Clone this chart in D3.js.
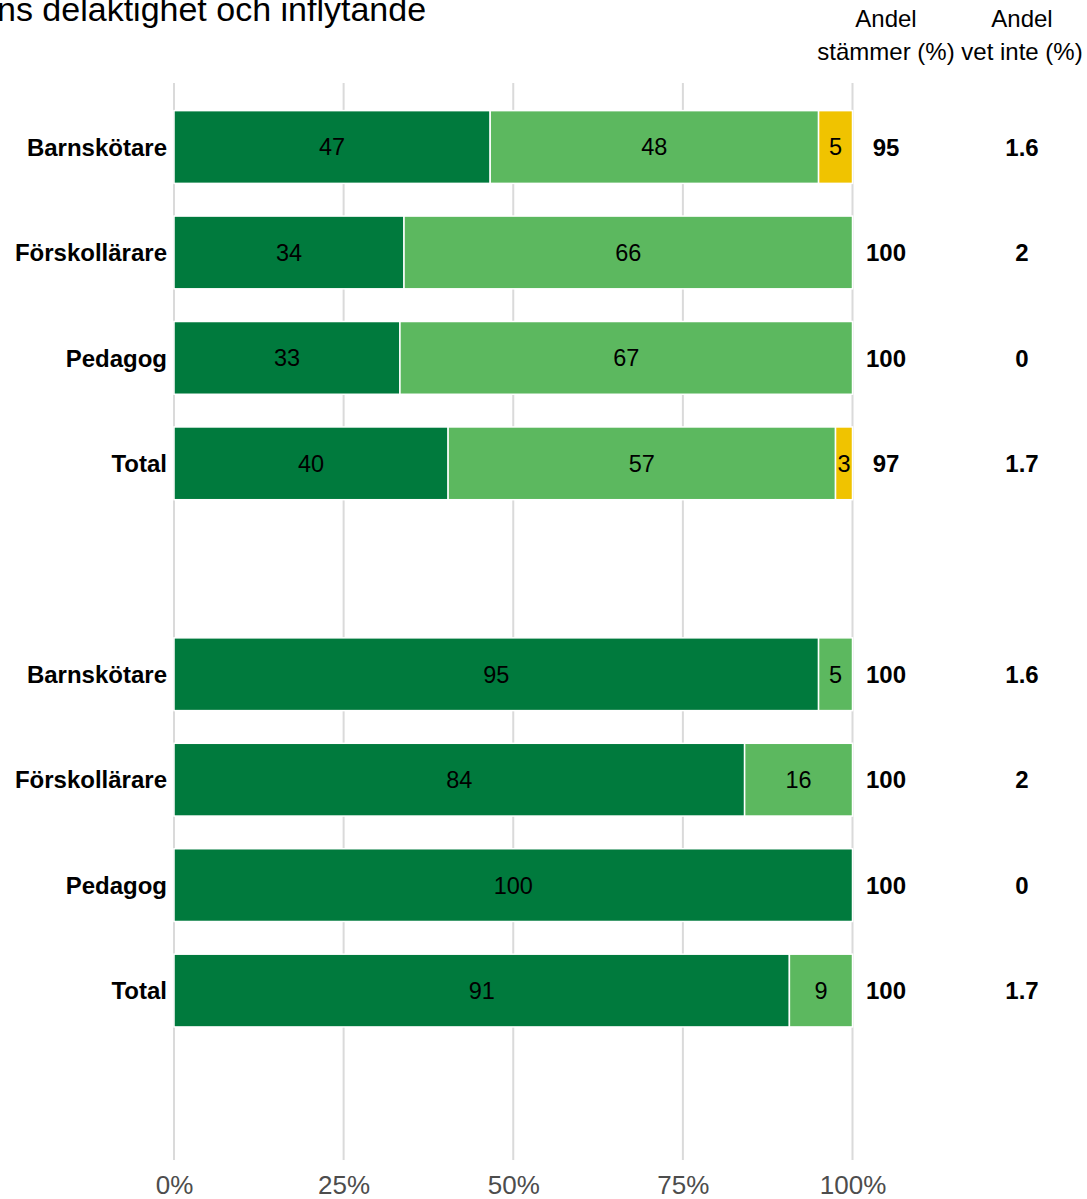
<!DOCTYPE html>
<html>
<head>
<meta charset="utf-8">
<script src="https://cdn.jsdelivr.net/npm/d3@7"></script>
<style>
  body { margin: 0; background: #fff; }
  svg { display: block; font-family: "Liberation Sans", Arial, sans-serif; }
</style>
</head>
<body>
<svg id="chart"></svg>
<script>
// values (percent)
var rowLabels = ["Barnskötare", "Förskollärare", "Pedagog", "Total"];
var panel1Dark = [46.6, 33.9, 33.3, 40.4];
var panel1Light = [48.4, 66.1, 66.7, 57.1];
var panel1Yellow = [5.0, 0, 0, 2.5];
var panel2Dark = [95.0, 84.1, 100, 90.7];
var panel2Light = [5.0, 15.9, 0, 9.3];
var panel2Yellow = [0, 0, 0, 0];
var panel1Stammer = ["95", "100", "100", "97"];
var panel1VetInte = ["1.6", "2", "0", "1.7"];
var panel2Stammer = ["100", "100", "100", "100"];
var panel2VetInte = ["1.6", "2", "0", "1.7"];
var xTicks = [0, 25, 50, 75, 100];
var colHeaders = [["Andel", "stämmer (%)"], ["Andel", "vet inte (%)"]];

var width = 1087, height = 1199;
var colors = { dark: "#007a3d", light: "#5cb85f", yellow: "#f0c300" };
var keys = ["dark", "light", "yellow"];

var svg = d3.select("#chart")
    .attr("width", width)
    .attr("height", height);

// build rows for both panels, with one empty slot after each panel
var rows = [];
function addPanel(p, dark, light, yellow, stammer, vet) {
    rowLabels.forEach(function(lab, i) {
        rows.push({ key: p + "|" + lab, label: lab, dark: dark[i], light: light[i],
                    yellow: yellow[i], stammer: stammer[i], vet: vet[i] });
    });
}
addPanel("p1", panel1Dark, panel1Light, panel1Yellow, panel1Stammer, panel1VetInte);
var slots = rows.map(function(d) { return d.key; });
slots.push("p1|blank");
addPanel("p2", panel2Dark, panel2Light, panel2Yellow, panel2Stammer, panel2VetInte);
rows.slice(4).forEach(function(d) { slots.push(d.key); });
slots.push("p2|blank");

var x = d3.scaleLinear().domain([0, 100]).range([174, 852.5]);
var y = d3.scaleBand().domain(slots).range([83, 1160])
    .paddingInner(0.31).paddingOuter(0.262);

// grid
svg.append("g").selectAll("line")
    .data(xTicks)
    .enter()
    .append("line")
    .attr("x1", function(d) { return x(d); })
    .attr("x2", function(d) { return x(d); })
    .attr("y1", 83)
    .attr("y2", 1160)
    .attr("stroke", "#dadada")
    .attr("stroke-width", 2);

// x axis labels
var xAxis = d3.axisBottom(x)
    .tickValues(xTicks)
    .tickSize(0)
    .tickPadding(0)
    .tickFormat(function(d) { return d + "%"; });
var axisG = svg.append("g")
    .attr("transform", "translate(0,1176)")
    .call(xAxis);
axisG.select(".domain").remove();
axisG.selectAll("text")
    .attr("fill", "#4d4d4d")
    .attr("font-size", 26)
    .attr("font-family", "Liberation Sans, Arial, sans-serif")
    .attr("dy", "0.71em");

// stacked bars
var stack = d3.stack().keys(keys);
var series = stack(rows);

var layers = svg.append("g").selectAll("g")
    .data(series)
    .enter()
    .append("g")
    .attr("fill", function(s) { return colors[s.key]; });

layers.selectAll("rect")
    .data(function(s) { return s.filter(function(d) { return d[1] - d[0] > 0; }); })
    .enter()
    .append("rect")
    .attr("x", function(d) { return x(d[0]); })
    .attr("width", function(d) { return x(d[1]) - x(d[0]); })
    .attr("y", function(d) { return y(d.data.key); })
    .attr("height", y.bandwidth())
    .attr("stroke", "#fff")
    .attr("stroke-width", 1.5);

layers.selectAll("text")
    .data(function(s) { return s.filter(function(d) { return d[1] - d[0] > 0; }); })
    .enter()
    .append("text")
    .attr("x", function(d) { return (x(d[0]) + x(d[1])) / 2; })
    .attr("y", function(d) { return y(d.data.key) + y.bandwidth() / 2; })
    .attr("dy", "0.36em")
    .attr("text-anchor", "middle")
    .attr("font-size", 23.5)
    .attr("fill", "#000")
    .text(function(d) { return Math.round(d[1] - d[0]); });

// row labels
svg.append("g").selectAll("text")
    .data(rows)
    .enter()
    .append("text")
    .attr("x", 167)
    .attr("y", function(d) { return y(d.key) + y.bandwidth() / 2; })
    .attr("dy", "0.36em")
    .attr("text-anchor", "end")
    .attr("font-size", 24)
    .attr("font-weight", "bold")
    .text(function(d) { return d.label; });

// side columns
var colX = [886, 1022];
svg.append("g").selectAll("text")
    .data(rows)
    .enter()
    .append("text")
    .attr("x", colX[0])
    .attr("y", function(d) { return y(d.key) + y.bandwidth() / 2; })
    .attr("dy", "0.36em")
    .attr("text-anchor", "middle")
    .attr("font-size", 24)
    .attr("font-weight", "bold")
    .text(function(d) { return d.stammer; });

svg.append("g").selectAll("text")
    .data(rows)
    .enter()
    .append("text")
    .attr("x", colX[1])
    .attr("y", function(d) { return y(d.key) + y.bandwidth() / 2; })
    .attr("dy", "0.36em")
    .attr("text-anchor", "middle")
    .attr("font-size", 24)
    .attr("font-weight", "bold")
    .text(function(d) { return d.vet; });

// column headers
colHeaders.forEach(function(lines, i) {
    var t = svg.append("text")
        .attr("x", colX[i])
        .attr("y", 27)
        .attr("text-anchor", "middle")
        .attr("font-size", 24)
        .attr("fill", "#000");
    lines.forEach(function(l, j) {
        t.append("tspan")
            .attr("x", colX[i])
            .attr("y", 27 + j * 33)
            .text(l);
    });
});

// title (cut off at the left edge, as in the picture)
svg.append("text")
    .attr("x", -3)
    .attr("y", 21)
    .attr("font-size", 34)
    .attr("fill", "#000")
    .text("ns delaktighet och inflytande");
</script>
</body>
</html>
